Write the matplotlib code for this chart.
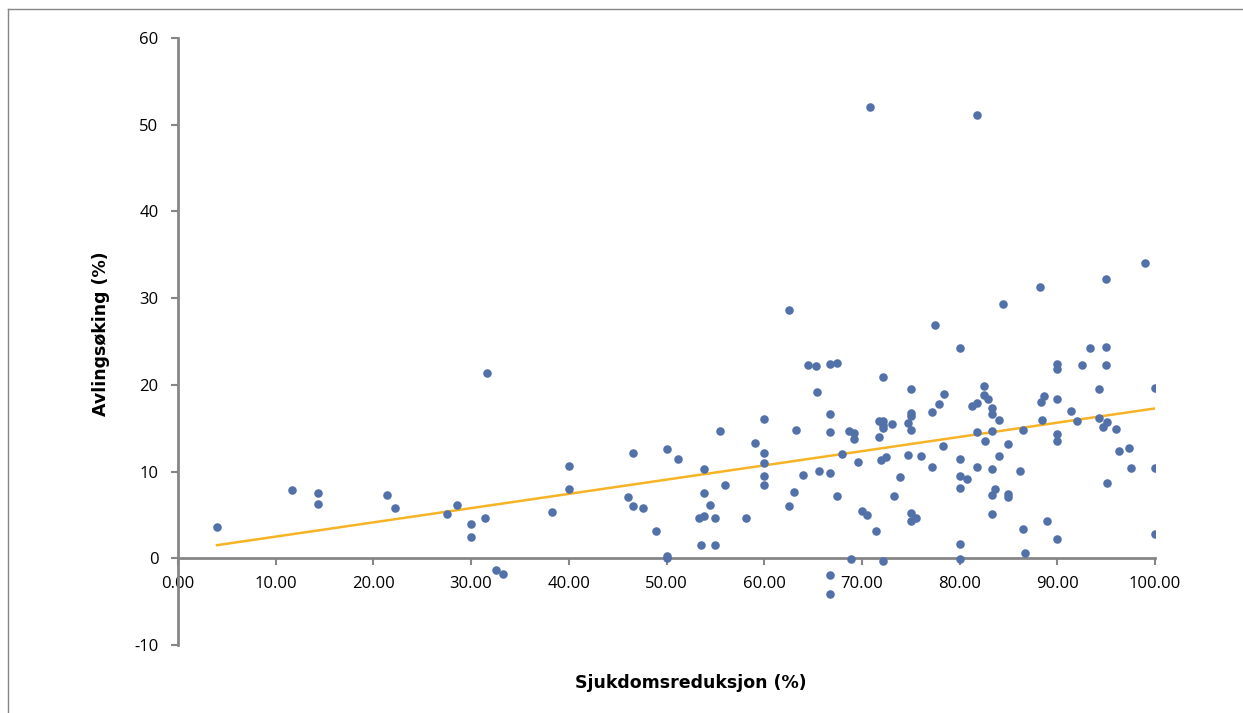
import numpy as np
import matplotlib
matplotlib.use("Agg")
import matplotlib.pyplot as plt
from matplotlib.lines import Line2D

# sjukdomsreduksjon (%) og avlingsøking (%)
reduksjon = [
    4.0, 11.7, 14.3, 14.3, 21.4, 22.2, 27.5, 28.6, 30.0, 30.0, 31.4, 31.6, 32.5, 33.3,
    38.3, 40.0, 40.0, 46.1, 46.6, 46.6, 47.6, 48.9, 50.0, 50.0, 50.0, 51.2,
    53.3, 53.8, 53.5, 53.8, 53.8, 54.5, 55.0, 55.0, 55.5, 56.0, 58.1, 59.1,
    60.0, 60.0, 60.0, 60.0, 60.0, 62.5, 62.5, 63.0, 63.3, 64.0,
    64.5, 65.3, 66.7, 67.5, 65.4, 66.7, 66.7, 65.6, 66.7, 67.5, 68.0,
    68.7, 69.2, 69.2, 69.6, 70.0, 70.5, 71.4, 68.9, 72.2, 72.2,
    71.7, 72.2, 72.2, 72.2, 73.1, 71.7, 72.0, 72.5, 73.9, 73.3,
    75.0, 75.0, 75.0, 74.7, 75.0, 74.7, 76.0, 75.0, 75.5, 75.0,
    77.2, 77.9, 78.4, 78.3, 77.2, 77.5, 80.0, 80.0, 80.0, 80.0, 80.0, 80.0,
    66.7, 66.7, 70.8, 81.8, 80.8,
    82.5, 82.5, 82.9, 81.3, 81.8, 83.3, 83.3, 84.0, 81.8, 83.3, 82.6, 85.0, 86.5,
    84.0, 81.8, 83.3, 86.2, 83.6, 83.3, 85.0, 85.0, 83.3, 86.5, 86.7, 88.9,
    90.0, 90.0, 88.6, 88.3, 90.0, 88.4, 90.0, 90.0, 90.0, 84.4, 88.2,
    99.0, 95.0, 93.3, 95.0, 92.5, 95.0, 94.3, 100.0, 91.4, 92.0, 94.3, 95.1,
    94.7, 96.0, 96.3, 97.3, 97.5, 100.0, 95.1, 100.0,
]
avling = [
    3.6, 7.9, 7.5, 6.3, 7.3, 5.8, 5.1, 6.2, 4.0, 2.5, 4.6, 21.4, -1.3, -1.8,
    5.3, 10.7, 8.0, 7.1, 12.1, 6.0, 5.8, 3.1, 12.6, 0.3, 0.0, 11.4,
    4.7, 4.85, 1.5, 10.3, 7.5, 6.2, 4.65, 1.5, 14.7, 8.4, 4.65, 13.3,
    16.1, 12.1, 11.0, 9.5, 8.4, 28.6, 6.0, 7.7, 14.8, 9.65,
    22.3, 22.2, 22.4, 22.5, 19.2, 16.6, 14.6, 10.1, 9.85, 7.2, 12.0,
    14.65, 14.4, 13.8, 11.1, 5.4, 5.0, 3.1, -0.1, -0.3, 20.9,
    15.8, 15.8, 15.4, 15.0, 15.5, 14.0, 11.3, 11.65, 9.4, 7.2,
    19.5, 16.7, 16.4, 15.65, 14.85, 11.9, 11.85, 5.2, 4.65, 4.3,
    16.85, 17.8, 18.9, 13.0, 10.5, 26.9, 24.3, 11.4, 9.5, 8.1, 1.7, -0.1,
    -1.9, -4.1, 52.0, 51.1, 9.1,
    19.9, 18.8, 18.4, 17.6, 17.9, 17.3, 16.6, 15.9, 14.6, 14.65, 13.5, 13.15, 14.8,
    11.85, 10.5, 10.3, 10.1, 7.95, 7.35, 7.45, 7.1, 5.1, 3.35, 0.6, 4.3,
    22.4, 21.8, 18.7, 18.0, 18.35, 16.0, 14.35, 13.5, 2.2, 29.3, 31.3,
    34.0, 32.2, 24.3, 24.4, 22.3, 22.3, 19.5, 19.65, 17.0, 15.85, 16.2, 15.7,
    15.15, 14.9, 12.4, 12.7, 10.4, 10.45, 8.65, 2.75,
]

x_ticks = [0, 10, 20, 30, 40, 50, 60, 70, 80, 90, 100]
y_ticks = [-10, 0, 10, 20, 30, 40, 50, 60]

x = np.array(reduksjon)
y = np.array(avling)

fig = plt.figure(figsize=(12.43, 7.13), dpi=100)
ax = fig.add_axes([178/1243, 1-645/713, (1155-178)/1243, (645-38)/713])

ax.scatter(x, y, s=38, color='#5371a9', zorder=3, linewidths=0)

# lineær trendlinje
k, m = np.polyfit(x, y, 1)
xs = np.array([x.min(), x.max()])
ax.plot(xs, k*xs + m, color='#f5b325', lw=1.8, zorder=2)

ax.set_xlim(0, 100)
ax.set_ylim(-10, 60)
ax.set_xticks(x_ticks)
ax.set_xticklabels(['%.2f' % v for v in x_ticks])
ax.set_yticks(y_ticks)
ax.set_yticklabels([str(v) for v in y_ticks])

ax.spines['top'].set_visible(False)
ax.spines['right'].set_visible(False)
ax.spines['bottom'].set_position(('data', 0))
for sp in ['left', 'bottom']:
    ax.spines[sp].set_color('#868686')
    ax.spines[sp].set_linewidth(2)
ax.tick_params(axis='both', colors='#868686', length=5, width=1.5,
               labelcolor='black', labelsize=12)
ax.tick_params(axis='y', pad=9)
ax.tick_params(axis='x', pad=8)
for lab in ax.get_xticklabels() + ax.get_yticklabels():
    lab.set_family('Open Sans')

fig.text(691/1243, 1-683/713, 'Sjukdomsreduksjon (%)', ha='center', va='center',
         fontsize=12.5, fontweight='bold')
fig.text(101/1243, 1-334/713, 'Avlingsøking (%)', ha='center', va='center',
         rotation=90, fontsize=12.5, fontweight='bold')

# ramme rundt diagramområdet
fig.add_artist(Line2D([8/1243, 8/1243], [0, 1-9/713], transform=fig.transFigure,
                      color='#868686', lw=1))
fig.add_artist(Line2D([8/1243, 1], [1-9/713, 1-9/713], transform=fig.transFigure,
                      color='#868686', lw=1))

fig.savefig('out.png', dpi=100)
print(k, m)
